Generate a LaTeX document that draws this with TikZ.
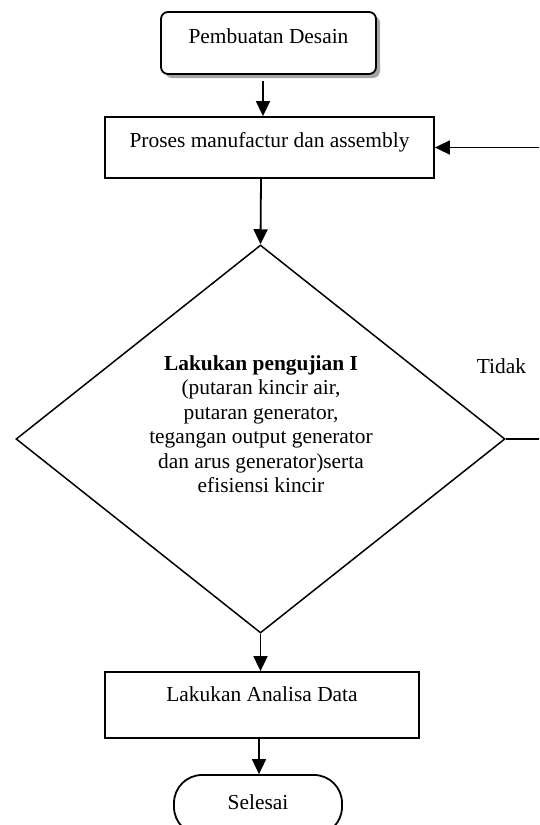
\documentclass[tikz,border=0pt]{standalone}
\usepackage{fontspec}
\setmainfont{Liberation Serif}
\usetikzlibrary{shapes.geometric,arrows.meta,shadows}
\begin{document}
\begin{tikzpicture}[x=1pt,y=-1pt,
  font=\fontsize{21.4}{24.5}\selectfont,
  line width=1.8pt,
  box/.style={draw, rectangle, inner sep=0pt},
  arr/.style={-{Triangle[length=15pt,width=14pt]}}]
\useasboundingbox (0,0) rectangle (539,825);
\clip (0,0) rectangle (539,825);
\node[box, rounded corners=7pt, minimum width=215pt, minimum height=62pt,
  text height=12pt, text depth=12pt, fill=white,
  drop shadow={shadow xshift=4pt, shadow yshift=-4pt, fill=gray!70, opacity=1}]
  (start) at (268.5,43) {Pembuatan Desain};
\node[box, minimum width=329pt, minimum height=61pt, text height=12pt, text depth=12pt]
  (proc) at (269.5,147.5) {Proses manufactur dan assembly};
\node[draw, diamond, minimum width=489pt, minimum height=388pt, inner sep=0pt, line width=1.5pt]
  (test) at (260.5,439) {};
\node[align=center, inner sep=0pt] (testtxt) at (261,424)
  {\textbf{Lakukan pengujian I}\\(putaran kincir air,\\putaran generator,\\tegangan output generator\\dan arus generator)serta\\efisiensi kincir};
\node[box, minimum width=314pt, minimum height=66pt, text height=8pt, text depth=15pt]
  (anal) at (262,705) {Lakukan Analisa Data};
\node[draw, rounded corners=28pt, minimum width=168pt, minimum height=60pt, inner sep=0pt,
  text height=14pt, text depth=5pt] (finish) at (258,805) {Selesai};
\node (tidak) at (501.5,366) {Tidak};
\draw[arr] ([xshift=-5.5pt,yshift=-6pt]start.south) -- ([xshift=-6.5pt]proc.north);
\draw[arr] ([xshift=-8.5pt]proc.south) -- (test.north);
\draw[arr] (test.south) -- ([xshift=-1.5pt]anal.north);
\draw[arr] ([xshift=-3pt]anal.south) -- ([xshift=1pt]finish.north);
\draw[arr] (test.east) -- ++(60,0) |- (proc.east);
\end{tikzpicture}
\end{document}
